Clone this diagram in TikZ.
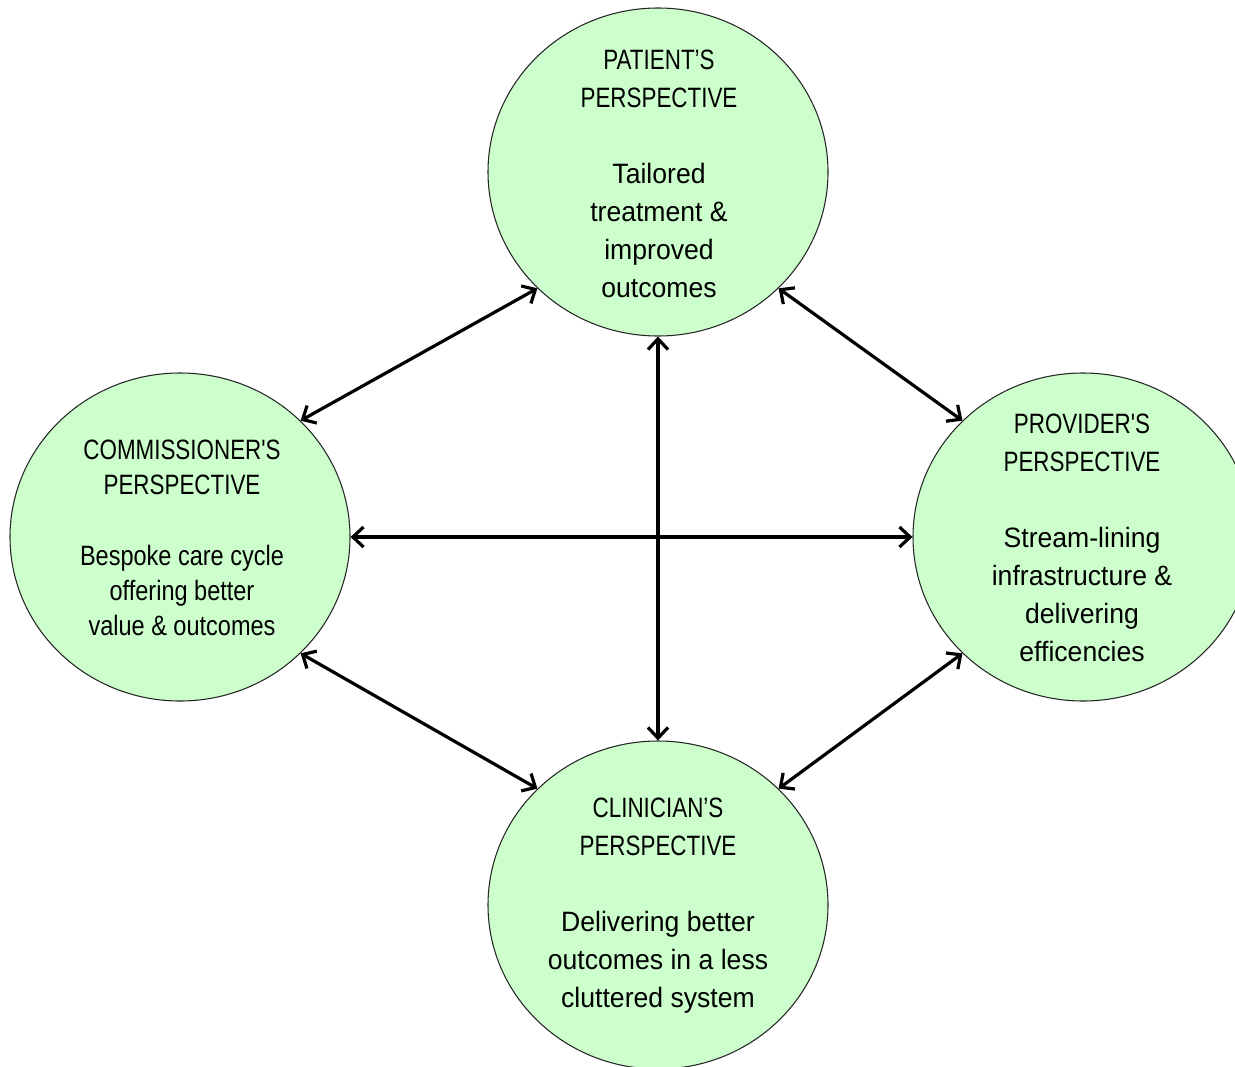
\documentclass[tikz,border=0pt]{standalone}
\usepackage{fontspec}
\setmainfont{Liberation Sans}
\newfontfamily\ttlfont[FakeStretch=0.8]{Liberation Sans}
\newfontfamily\bdyfont[FakeStretch=0.95]{Liberation Sans}
\newfontfamily\bdynfont[FakeStretch=0.84]{Liberation Sans}
\usetikzlibrary{shapes.geometric,arrows.meta}
\definecolor{pfill}{HTML}{CCFFCC}
\tikzset{
  pers/.style={ellipse, draw=black!85, line width=0.8pt, fill=pfill,
    minimum width=255pt, minimum height=246pt, inner sep=0pt},
  ptxt/.style={align=center, inner sep=0pt, text=black, font=\fontsize{21}{28.5}\selectfont},
  ptxtc/.style={ptxt, font=\fontsize{21}{26.5}\selectfont},
  link/.style={line width=2.4pt, {Straight Barb[length=8pt,width=15pt]}-{Straight Barb[length=8pt,width=15pt]}},
}
\newcommand{\ttl}{\ttlfont}
\newcommand{\bdy}{\bdyfont}
\newcommand{\bdyn}{\bdynfont}
\begin{document}
\begin{tikzpicture}[x=0.75pt,y=-0.75pt]
\useasboundingbox (0,0) rectangle (1235,1067);
\node[pers] (pat) at (658,172) {};
\node[pers] (com) at (180,537) {};
\node[pers] (pro) at (1083,537) {};
\node[pers] (cli) at (658,905) {};

\node[ptxt] (pattxt) at (659,174) {
  \ttl PATIENT’S\\ \ttl PERSPECTIVE\\[28.5pt]
  \bdy Tailored\\ \bdy treatment \&\\ \bdy improved\\ \bdy outcomes};
\node[ptxtc] (comtxt) at (182,538) {
  \ttl COMMISSIONER'S\\ \ttl PERSPECTIVE\\[26.5pt]
  \bdyn Bespoke care cycle\\ \bdyn offering better\\ \bdyn value \& outcomes};
\node[ptxt] (protxt) at (1082,538) {
  \ttl PROVIDER'S\\ \ttl PERSPECTIVE\\[28.5pt]
  \bdy Stream-lining\\ \bdy infrastructure \&\\ \bdy delivering\\ \bdy efficencies};
\node[ptxt] (clitxt) at (658,906) {
  \ttl CLINICIAN’S\\ \ttl PERSPECTIVE\\[28.5pt]
  \bdy Delivering better\\ \bdy outcomes in a less\\ \bdy cluttered system};

\draw[link] (pat.south west) -- (com.north east);
\draw[link] (pat.south east) -- (pro.north west);
\draw[link] (com.east) -- (pro.west);
\draw[link] (pat.south) -- (cli.north);
\draw[link] (com.south east) -- (cli.north west);
\draw[link] (pro.south west) -- (cli.north east);
\end{tikzpicture}
\end{document}
